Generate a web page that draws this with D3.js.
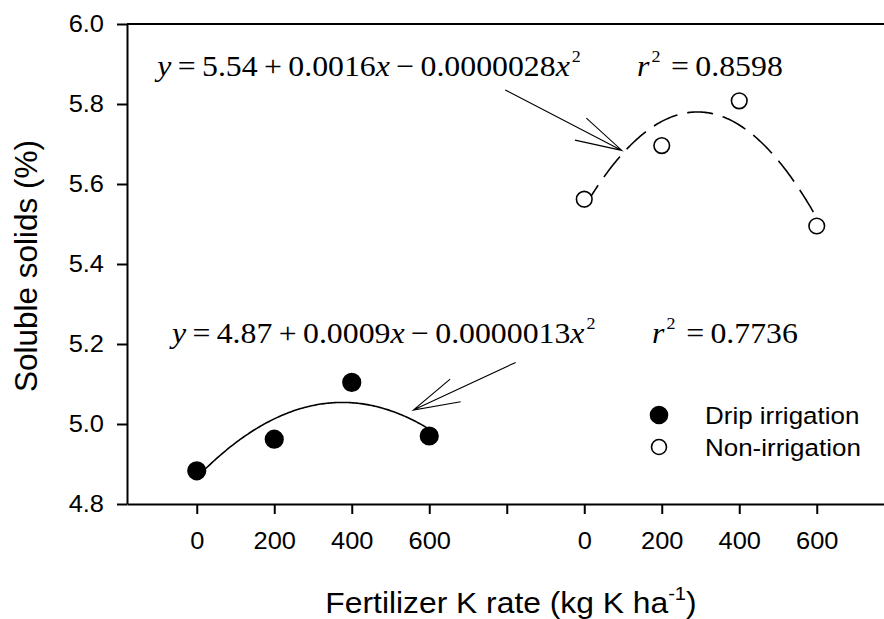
<!DOCTYPE html>
<html>
<head>
<meta charset="utf-8">
<script src="https://cdn.jsdelivr.net/npm/d3@7"></script>
<style>
  body { margin: 0; background: #fff; }
  svg { display: block; }
</style>
</head>
<body>
<script>
// fertilizer K rates, the two treatments sit side by side on one axis
const rates = [0, 200, 400, 600];
const dripValues = [4.883, 4.962, 5.104, 4.970];
const nonIrrValues = [5.562, 5.696, 5.808, 5.495];
const groupOffset = { drip: 0, nonIrr: 1000 };

const xTickValues = [0, 200, 400, 600, 800, 1000, 1200, 1400, 1600];
const xTickLabels = ['0', '200', '400', '600', '', '0', '200', '400', '600'];
const yTickValues = [4.8, 5.0, 5.2, 5.4, 5.6, 5.8, 6.0];

const legendLabels = ['Drip irrigation', 'Non-irrigation'];

// equation text pieces: [text, style]  (i = italic, s = superscript)
const eqNonIrr = [['y', 'i'], ['=', ''], ['5.54', ''], ['+', ''], ['0.0016', ''], ['x', 'i'], ['\u2212', ''], ['0.0000028', ''], ['x', 'i'], ['2', 's']];
const eqDrip = [['y', 'i'], ['=', ''], ['4.87', ''], ['+', ''], ['0.0009', ''], ['x', 'i'], ['\u2212', ''], ['0.0000013', ''], ['x', 'i'], ['2', 's']];
const r2NonIrr = [['r', 'i'], ['2', 's'], ['=', ''], ['0.8598', '']];
const r2Drip = [['r', 'i'], ['2', 's'], ['=', ''], ['0.7736', '']];

const dims = {
  width: 884,
  height: 619,
  margin: { top: 24, left: 127, bottom: 115 },
};
const SX = 1.06; // the source picture is a little stretched sideways

const sans = '"Liberation Sans", Arial, sans-serif';
const serif = '"Liberation Serif", "Times New Roman", serif';

const xScale = d3.scaleLinear().domain([-180, 1800]).range([127, 127 + 1980 * 0.3875]);
const yScale = d3.scaleLinear().domain([4.8, 6.0]).range([dims.height - dims.margin.bottom, dims.margin.top]);

const svg = d3.select('body')
  .append('svg')
  .attr('width', dims.width)
  .attr('height', dims.height)
  .attr('viewBox', [0, 0, dims.width, dims.height]);

// quadratic least squares fit, as in the source
function quadFit(xs, ys) {
  const s = [0, 0, 0, 0, 0], t = [0, 0, 0];
  xs.forEach((x, i) => {
    for (let k = 0; k < 5; k++) s[k] += x ** k;
    for (let k = 0; k < 3; k++) t[k] += ys[i] * x ** k;
  });
  const m = [
    [s[0], s[1], s[2], t[0]],
    [s[1], s[2], s[3], t[1]],
    [s[2], s[3], s[4], t[2]],
  ];
  for (let c = 0; c < 3; c++) {
    for (let r = c + 1; r < 3; r++) {
      const f = m[r][c] / m[c][c];
      for (let k = c; k < 4; k++) m[r][k] -= f * m[c][k];
    }
  }
  const b = [0, 0, 0];
  for (let r = 2; r >= 0; r--) {
    let v = m[r][3];
    for (let k = r + 1; k < 3; k++) v -= m[r][k] * b[k];
    b[r] = v / m[r][r];
  }
  return b;
}

// axes
const xAxis = d3.axisBottom(xScale)
  .tickValues(xTickValues)
  .tickFormat((d, i) => xTickLabels[i])
  .tickSize(10)
  .tickSizeOuter(0)
  .tickPadding(12);
const yAxis = d3.axisLeft(yScale)
  .tickValues(yTickValues)
  .tickFormat(d3.format('.1f'))
  .tickSize(10)
  .tickSizeOuter(0)
  .tickPadding(12);

const xAxisGroup = svg.append('g')
  .attr('transform', `translate(0 ${yScale(4.8)})`)
  .call(xAxis);
const yAxisGroup = svg.append('g')
  .attr('transform', `translate(${xScale(-180)} 0)`)
  .call(yAxis);

[xAxisGroup, yAxisGroup].forEach(g => {
  g.selectAll('path, line').attr('stroke', '#000').attr('stroke-width', 2);
  g.selectAll('text')
    .attr('font-family', sans)
    .attr('font-size', 24)
    .attr('fill', '#000');
});
xAxisGroup.selectAll('text').attr('transform', `scale(${SX} 1)`).attr('dy', '0.95em');
yAxisGroup.selectAll('text')
  .attr('x', -23 / SX)
  .attr('transform', `scale(${SX} 1)`);

// top frame line
svg.append('path')
  .attr('d', `M ${xScale(-180)} ${yScale(6)} H ${dims.width}`)
  .attr('stroke', '#000')
  .attr('stroke-width', 2);

// fitted curves
const series = [
  { key: 'drip', values: dripValues, fill: '#000', dash: null },
  { key: 'nonIrr', values: nonIrrValues, fill: '#fff', dash: '26 10' },
];

const line = d3.line()
  .x(d => xScale(d[0]))
  .y(d => yScale(d[1]));

series.forEach(s => {
  const c = quadFit(rates, s.values);
  const off = groupOffset[s.key];
  const pts = d3.range(0, 601, 4).map(x => [x + off, c[0] + c[1] * x + c[2] * x * x]);
  svg.append('path')
    .datum(pts)
    .attr('d', line)
    .attr('fill', 'none')
    .attr('stroke', '#000')
    .attr('stroke-width', 1.6)
    .attr('stroke-dasharray', s.dash);
});

series.forEach(s => {
  const off = groupOffset[s.key];
  svg.append('g')
    .selectAll('circle')
    .data(rates.map((r, i) => [r + off, s.values[i]]))
    .join('circle')
    .attr('cx', d => xScale(d[0]))
    .attr('cy', d => yScale(d[1]))
    .attr('r', s.key === 'drip' ? 8.8 : 7.8)
    .attr('fill', s.fill)
    .attr('stroke', '#000')
    .attr('stroke-width', 1.6);
});

// equations
const ops = ['=', '+', '\u2212'];
function drawEquation(parts, x, y) {
  const g = svg.append('g').attr('transform', `translate(${x} ${y}) scale(${SX} 1)`);
  const text = g.append('text')
    .attr('font-family', serif)
    .attr('font-size', 30)
    .attr('fill', '#000');
  let raised = false;
  parts.forEach((p, i) => {
    const [str, style] = p;
    const ts = text.append('tspan').text(str);
    let dx = 0;
    if (i > 0 && style !== 's') {
      const prev = parts[i - 1];
      if (ops.includes(str) || ops.includes(prev[0])) dx = 6;
      if (prev[1] === 's' && str === '=') dx = 10;
    }
    if (style === 'i') ts.attr('font-style', 'italic');
    if (style === 's') {
      ts.attr('font-size', 17).attr('dy', -14).attr('dx', 2);
      raised = true;
    } else if (raised) {
      ts.attr('dy', 14);
      raised = false;
    }
    if (dx) ts.attr('dx', dx);
  });
}

drawEquation(eqNonIrr, xScale(-102), yScale(5.871));
drawEquation(r2NonIrr, xScale(1136), yScale(5.871));
drawEquation(eqDrip, xScale(-64), yScale(5.2025));
drawEquation(r2Drip, xScale(1175), yScale(5.2025));

// arrows pointing at the curves
const arrows = [
  { tail: [796, 5.835], tip: [1097, 5.684] },
  { tail: [823, 5.154], tip: [559, 5.035] },
];
arrows.forEach(a => {
  const x0 = xScale(a.tail[0]), y0 = yScale(a.tail[1]);
  const x1 = xScale(a.tip[0]), y1 = yScale(a.tip[1]);
  const back = Math.atan2(y0 - y1, x0 - x1);
  const len = 48, spread = 15 * Math.PI / 180;
  const h1 = [x1 + len * Math.cos(back + spread), y1 + len * Math.sin(back + spread)];
  const h2 = [x1 + len * Math.cos(back - spread), y1 + len * Math.sin(back - spread)];
  svg.append('path')
    .attr('d', `M ${x0} ${y0} L ${x1} ${y1} M ${h1[0]} ${h1[1]} L ${x1} ${y1} L ${h2[0]} ${h2[1]}`)
    .attr('fill', 'none')
    .attr('stroke', '#000')
    .attr('stroke-width', 1.1);
});

// legend
const legend = svg.append('g').attr('transform', 'translate(659 415)');
legendLabels.forEach((label, i) => {
  const row = legend.append('g').attr('transform', `translate(0 ${i * 32})`);
  row.append('circle')
    .attr('r', i === 0 ? 8.5 : 7.5)
    .attr('fill', series[i].fill)
    .attr('stroke', '#000')
    .attr('stroke-width', 1.6);
  row.append('text')
    .attr('transform', `translate(46 9) scale(${SX} 1)`)
    .attr('font-family', sans)
    .attr('font-size', 24.5)
    .attr('fill', '#000')
    .text(label);
});

// axis titles
const xTitle = svg.append('text')
  .attr('transform', `translate(511 613) scale(${SX} 1)`)
  .attr('text-anchor', 'middle')
  .attr('font-family', sans)
  .attr('font-size', 30)
  .attr('fill', '#000');
xTitle.append('tspan').text('Fertilizer K rate (kg K ha');
xTitle.append('tspan').attr('font-size', 19).attr('dy', -13).text('-1');
xTitle.append('tspan').attr('dy', 13).text(')');

svg.append('text')
  .attr('transform', 'translate(37 266) rotate(-90)')
  .attr('text-anchor', 'middle')
  .attr('font-family', sans)
  .attr('font-size', 31.5)
  .attr('fill', '#000')
  .text('Soluble solids (%)');
</script>
</body>
</html>
